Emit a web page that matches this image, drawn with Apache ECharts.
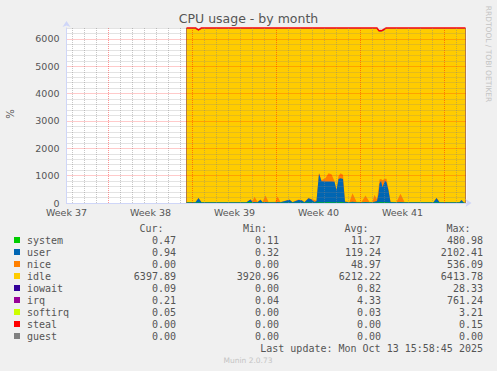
<!DOCTYPE html>
<html><head><meta charset="utf-8">
<script src="https://cdn.jsdelivr.net/npm/echarts@6/dist/echarts.min.js"></script>
<style>html,body{margin:0;padding:0;background:#F0F0F0;}#c{width:497px;height:371px;}</style>
</head><body><div id="c"></div>
<script>
// time in hours since the left edge of the plot (1 px = 2 h)
const hours = [240,258,264,270,360,368,372,376,382,388,
 392,398,404,418,422,428,446,452,464,470,
 476,484,490,496,500,505,510,518,524,530,
 536,540,544,548,553,557,566,572,580,590,
 598,606,612,616,621,624,626,629,632,637,
 640,644,648,660,668,676,734,740,746,786,
 790,794,798];
const system = [10,10,15,10,10,40,10,10,10,10,
 10,10,10,10,10,10,10,10,10,10,
 10,20,10,10,10,30,20,20,25,20,
 20,20,20,25,20,10,10,10,10,10,
 10,10,10,10,10,20,25,25,20,25,
 20,20,10,10,10,10,10,15,10,10,
 10,10,0.47];
const user = [20,15,170,20,15,90,20,30,20,110,
 20,30,20,20,30,20,110,20,100,90,
 20,150,120,30,60,1050,780,770,760,770,
 760,450,860,880,860,40,20,40,20,15,
 30,15,20,40,60,300,680,780,560,790,
 740,440,30,15,30,15,15,170,20,15,
 100,15,0.94];
const nice = [5,0,0,0,5,10,30,190,20,10,
 5,230,10,20,200,10,10,5,20,10,
 5,10,20,70,10,20,30,120,300,260,
 20,10,100,180,150,10,10,310,20,10,
 230,10,20,250,60,200,150,70,250,70,
 130,40,10,10,300,10,5,10,5,5,
 0,0,0];
const idle = [6360,6370,6120,6365,6365,6255,6335,6165,6345,6265,
 6360,6125,6355,6345,6155,6355,6265,6360,6265,6285,
 6360,6215,6245,6285,6315,5295,5565,5485,5310,5345,
 5595,5915,5415,5310,5365,6335,6355,6035,6345,6360,
 6125,6360,6345,6095,6265,5758,5413,5393,5448,5473,
 5505,5895,6345,6360,6055,6360,6365,6200,6360,6365,
 6285,6370,6397.89];
const iowait = [1,1,5,1,1,1,1,1,1,1,
 1,1,1,1,1,1,1,1,1,1,
 1,1,1,1,1,1,1,1,1,1,
 1,1,1,1,1,1,1,1,1,1,
 1,1,1,1,1,2,2,2,2,2,
 1,1,1,1,1,1,1,1,1,1,
 1,1,0.09];
const irq = [4,4,20,4,4,4,4,4,4,4,
 4,4,4,4,4,4,4,4,4,4,
 4,4,4,4,4,4,4,4,4,4,
 4,4,4,4,4,4,4,4,4,4,
 4,4,4,4,4,40,40,40,40,20,
 4,4,4,4,4,4,4,4,4,4,
 4,4,0.21];
const softirq = [0,0,0,0,0,0,0,0,0,0,
 0,0,0,0,0,0,0,0,0,0,
 0,0,0,0,0,0,0,0,0,0,
 0,0,0,0,0,0,0,0,0,0,
 0,0,0,0,0,0,0,0,0,0,
 0,0,0,0,0,0,0,0,0,0,
 0,0,0.05];
const steal = [0,0,0,0,0,0,0,0,0,0,
 0,0,0,0,0,0,0,0,0,0,
 0,0,0,0,0,0,0,0,0,0,
 0,0,0,0,0,0,0,0,0,0,
 0,0,0,0,0,0,0,0,0,0,
 0,0,0,0,0,0,0,0,0,0,
 0,0,0];
const guest = [0,0,0,0,0,0,0,0,0,0,
 0,0,0,0,0,0,0,0,0,0,
 0,0,0,0,0,0,0,0,0,0,
 0,0,0,0,0,0,0,0,0,0,
 0,0,0,0,0,0,0,0,0,0,
 0,0,0,0,0,0,0,0,0,0,
 0,0,0];

const seriesNames = ['system','user','nice','idle','iowait','irq','softirq','steal','guest'];
const seriesValues = [system,user,nice,idle,iowait,irq,softirq,steal,guest];
const seriesColors = ['#00CC00','#0066B3','#FF8000','#FFCC00','#330099','#990099','#CCFF00','#FF0000','#808080'];
const legendCur = ['0.47','0.94','0.00','6397.89','0.09','0.21','0.05','0.00','0.00'];
const legendMin = ['0.11','0.32','0.00','3920.96','0.00','0.04','0.00','0.00','0.00'];
const legendAvg = ['11.27','119.24','48.97','6212.22','0.82','4.33','0.03','0.00','0.00'];
const legendMax = ['480.98','2102.41','536.09','6413.78','28.33','761.24','3.21','0.15','0.00'];
const weekLabels = ['Week 37','Week 38','Week 39','Week 40','Week 41'];
const hoursPerWeek = 168;
const firstWeekStart = 84;   // hours: first Monday 00:00 after the left edge
const plotHours = 800;

const GRID = 'rgba(130,130,130,0.45)';
const MGRID = 'rgba(255,0,0,0.42)';
const yGridColors = [MGRID,GRID,GRID,GRID,GRID];

// vertical grid: a line every day at midnight, red at week starts
const vLines = [];
for (let h = firstWeekStart % 24; h < plotHours; h += 24) {
  const major = (h - firstWeekStart) % hoursPerWeek === 0;
  vLines.push({xAxis: h, lineStyle: {color: major ? MGRID : GRID, type: [1,1], width: 1}});
}

// cumulative (stacked) tops, stacking in munin order
const stackTops = [];
let running = hours.map(() => 0);
seriesValues.forEach(vals => { running = running.map((r, j) => r + vals[j]); stackTops.push(running); });

const MONO = '10px "DejaVu Sans Mono", monospace';
const TXT = '#555';
const graphics = [];
graphics.push({type:'text', x:10, y:114, rotation:Math.PI/2, silent:true,
  style:{text:'%', font:'10px "DejaVu Sans"', fill:TXT, align:'center', verticalAlign:'middle'}});
graphics.push({type:'text', x:488, y:54, rotation:-Math.PI/2, silent:true,
  style:{text:'RRDTOOL / TOBI OETIKER', font:'7.5px "DejaVu Sans"', fill:'#c4c4c4', align:'center', verticalAlign:'middle'}});
const headerX = [163.5, 267, 368.5, 470.5];
['Cur:','Min:','Avg:','Max:'].forEach((t,i)=>graphics.push({type:'text', silent:true,
  style:{text:t, x:headerX[i], y:228, font:MONO, fill:TXT, align:'right', verticalAlign:'middle'}}));
const colX = [176, 279, 381, 483];
seriesNames.forEach((n,i)=>{
  const y = 240 + 12*i;
  graphics.push({type:'rect', silent:true, shape:{x:14, y:y-3, width:6, height:6}, style:{fill:seriesColors[i]}});
  graphics.push({type:'text', silent:true, style:{text:n, x:27, y:y, font:MONO, fill:TXT, align:'left', verticalAlign:'middle'}});
  [legendCur,legendMin,legendAvg,legendMax].forEach((arr,k)=>graphics.push({type:'text', silent:true,
    style:{text:arr[i], x:colX[k], y:y, font:MONO, fill:TXT, align:'right', verticalAlign:'middle'}}));
});
graphics.push({type:'text', silent:true, style:{text:'Last update: Mon Oct 13 15:58:45 2025', x:483, y:348, font:MONO, fill:TXT, align:'right', verticalAlign:'middle'}});
graphics.push({type:'text', silent:true, style:{text:'Munin 2.0.73', x:248, y:360, font:'7.5px "DejaVu Sans"', fill:'#c4c4c4', align:'center', verticalAlign:'middle'}});

// draw the stacked areas top-down so each lower layer paints over the previous one
const dataSeries = [];
for (let i = seriesNames.length - 1; i >= 0; i--) {
  dataSeries.push({
    name:seriesNames[i], type:'line', silent:true, symbol:'none', showSymbol:false,
    data: hours.map((h,j)=>[h, stackTops[i][j]]),
    lineStyle:{width:0, color:seriesColors[i]},
    itemStyle:{color:seriesColors[i]},
    areaStyle:{color:seriesColors[i], opacity:1},
    emphasis:{disabled:true}, z:2
  });
}
// red steal line on the top of the stack
dataSeries.push({name:'steal-line', type:'line', silent:true, symbol:'none', showSymbol:false, clip:false,
  data: hours.map((h,j)=>[h, stackTops[7][j]]),
  lineStyle:{width:1.5, color:'#FF0000'}, emphasis:{disabled:true}, z:2});
dataSeries.push({name:'grid', type:'line', data:[], silent:true, z:3,
  markLine:{silent:true, symbol:['none','none'], label:{show:false}, animation:false, emphasis:{disabled:true}, data:vLines}});

const chart = echarts.init(document.getElementById('c'), null, {renderer:'svg'});
chart.setOption({
  animation:false,
  backgroundColor:'#F0F0F0',
  textStyle:{fontFamily:'"DejaVu Sans", sans-serif'},
  title:{text:'CPU usage - by month', left:'center', top:12, padding:0,
    textStyle:{fontSize:12.5, fontWeight:'normal', color:TXT, fontFamily:'"DejaVu Sans", sans-serif'}},
  grid:{left:66.5, top:28, width:400, height:175, show:true, backgroundColor:'#FFFFFF', borderWidth:0, containLabel:false, outerBoundsMode:'none'},
  xAxis:{type:'value', min:0, max:plotHours, interval:hoursPerWeek, z:10,
    axisLine:{show:true, lineStyle:{color:'#CFD6F8', width:1}, symbol:['none','arrow'], symbolSize:[6,6], symbolOffset:[0,5]},
    axisTick:{show:false},
    axisLabel:{color:TXT, fontSize:9.5, margin:4, fontFamily:'"DejaVu Sans", sans-serif', showMaxLabel:false,
      formatter:v => (v % hoursPerWeek === 0 && weekLabels[v/hoursPerWeek]) ? weekLabels[v/hoursPerWeek] : ''},
    splitLine:{show:false}},
  yAxis:{type:'value', min:0, max:6400, interval:200, z:10,
    axisLine:{show:true, lineStyle:{color:'#CFD6F8', width:1}, symbol:['none','arrow'], symbolSize:[6,6], symbolOffset:[0,7]},
    axisTick:{show:false},
    axisLabel:{color:TXT, fontSize:9.5, margin:7, fontFamily:'"DejaVu Sans", sans-serif',
      formatter:v => v % 1000 === 0 ? String(v) : ''},
    splitLine:{show:true, lineStyle:{color:yGridColors, type:[1,1], width:1}}},
  series: dataSeries,
  graphic: graphics
});
</script></body></html>
